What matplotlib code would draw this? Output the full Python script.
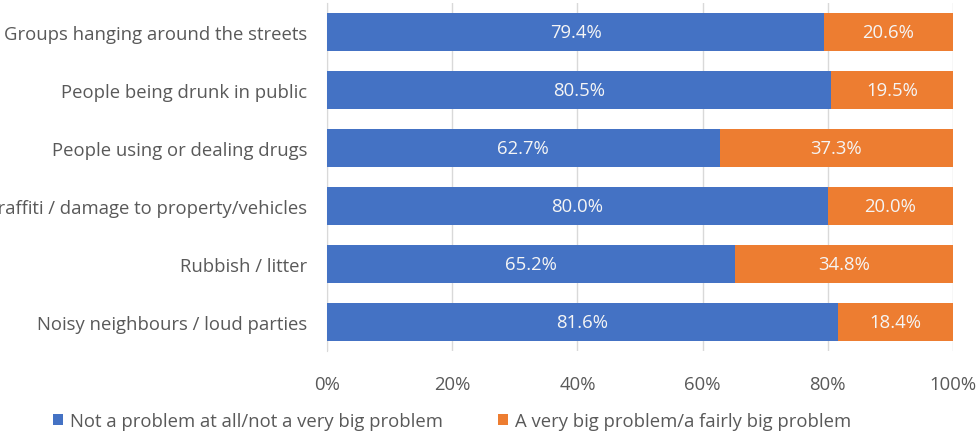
import matplotlib
matplotlib.use("Agg")
import matplotlib.pyplot as plt
from matplotlib.ticker import PercentFormatter

categories = ["Groups hanging around the streets", "People being drunk in public",
              "People using or dealing drugs", "Graffiti / damage to property/vehicles",
              "Rubbish / litter", "Noisy neighbours / loud parties"]
not_problem = [79.4, 80.5, 62.7, 80.0, 65.2, 81.6]
big_problem = [20.6, 19.5, 37.3, 20.0, 34.8, 18.4]
series_names = ["Not a problem at all/not a very big problem",
                "A very big problem/a fairly big problem"]
xticks = [0, 20, 40, 60, 80, 100]

plt.rcParams['font.family'] = ['Open Sans', 'DejaVu Sans']
gray = "#595959"
blue = "#4472C4"
orange = "#ED7D31"
fs = 13.3

fig = plt.figure(figsize=(9.78, 4.35), dpi=100)
ax = fig.add_axes([327/978, 1-352/435, (953-327)/978, 348/435])

y = list(range(len(categories)))
b1 = ax.barh(y, not_problem, height=0.66, color=blue, label=series_names[0], zorder=3)
b2 = ax.barh(y, big_problem, left=not_problem, height=0.66, color=orange, label=series_names[1], zorder=3)
for bars, vals in ((b1, not_problem), (b2, big_problem)):
    ax.bar_label(bars, labels=[f"{v:.1f}%" for v in vals], label_type='center',
                 color="#F5F5F5", fontsize=fs)

ax.set_ylim(len(categories)-0.5, -0.5)
ax.set_xlim(0, 100)
ax.set_yticks(y)
ax.set_yticklabels(categories, fontsize=fs, color=gray)
ax.set_xticks(xticks)
ax.xaxis.set_major_formatter(PercentFormatter(decimals=0))
ax.tick_params(axis='x', colors=gray, labelsize=fs, length=0, pad=17)
ax.tick_params(axis='y', length=0, pad=14)
ax.grid(axis='x', color="#D9D9D9", linewidth=1, zorder=0)
for s in ["top", "right", "bottom"]:
    ax.spines[s].set_visible(False)
ax.spines["left"].set_color("#D9D9D9")

fig.legend(handles=[b1, b2], loc="center", bbox_to_anchor=(0.462, 1-422/435), ncol=2,
           frameon=False, fontsize=fs, labelcolor=gray, handlelength=0.55, handleheight=0.55,
           handletextpad=0.35, columnspacing=3.0)

fig.savefig("out.png", dpi=100)
